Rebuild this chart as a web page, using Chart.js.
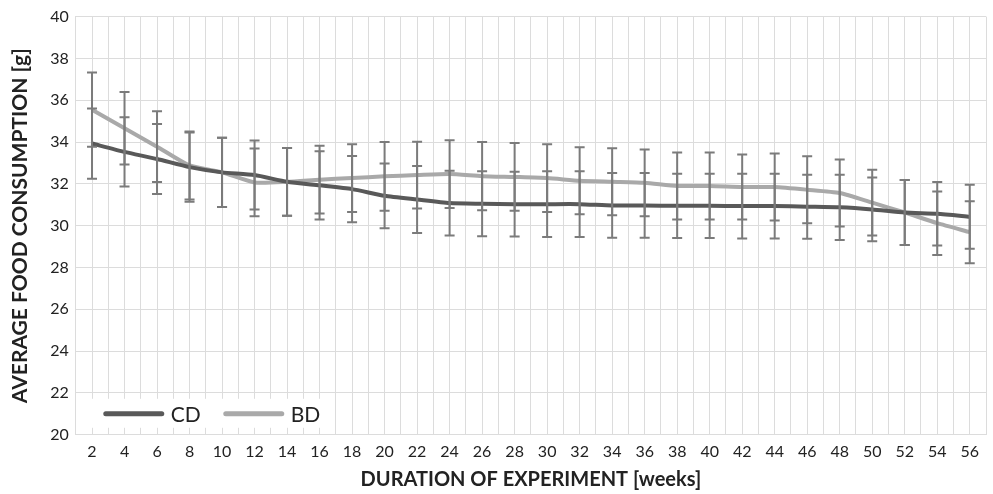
<!DOCTYPE html>
<html>
<head>
<meta charset="utf-8">
<title>Average food consumption</title>
<script src="https://cdn.jsdelivr.net/npm/chart.js@4.4.1/dist/chart.umd.min.js"></script>
<style>
  html, body { margin: 0; padding: 0; background: #fff; }
  #chart { display: block; }
</style>
</head>
<body>
<canvas id="chart" width="993" height="494"></canvas>
<script>
// weeks of the experiment
const weeks = [2, 4, 6, 8, 10, 12, 14, 16, 18, 20, 22, 24, 26, 28, 30, 32, 34, 36, 38, 40, 42, 44, 46, 48, 50, 52, 54, 56];

// mean consumption [g]
const cdMean = [33.93, 33.53, 33.19, 32.80, 32.55, 32.42, 32.10, 31.93, 31.75, 31.43, 31.25, 31.08, 31.05, 31.03, 31.03, 31.03, 30.97, 30.97, 30.95, 30.95, 30.94, 30.94, 30.91, 30.88, 30.78, 30.63, 30.57, 30.43];
const bdMean = [35.55, 34.66, 33.78, 32.88, 32.55, 32.07, 32.10, 32.20, 32.28, 32.36, 32.42, 32.47, 32.37, 32.33, 32.28, 32.15, 32.10, 32.05, 31.90, 31.90, 31.85, 31.85, 31.72, 31.56, 31.10, 30.63, 30.12, 29.69];

// error bar half-lengths [g]
const cdErr = [1.68, 1.66, 1.67, 1.66, 1.66, 1.65, 1.62, 1.63, 1.58, 1.55, 1.60, 1.55, 1.55, 1.55, 1.57, 1.57, 1.55, 1.55, 1.54, 1.54, 1.55, 1.55, 1.53, 1.56, 1.52, 1.55, 1.52, 1.53];
const bdErr = [1.78, 1.73, 1.69, 1.63, 1.66, 1.62, 1.62, 1.62, 1.62, 1.64, 1.60, 1.62, 1.63, 1.62, 1.62, 1.60, 1.60, 1.60, 1.60, 1.60, 1.55, 1.60, 1.60, 1.60, 1.57, 1.55, 1.52, 1.48];

// y axis ticks
const yTicks = [20, 22, 24, 26, 28, 30, 32, 34, 36, 38, 40];

const FONT = "Lato, 'Open Sans', sans-serif";
const TEXT = "#222222";
const GRID = "#dcdcdc";

const errorBars = {
  id: "errorBars",
  afterDatasetsDraw(chart) {
    const { ctx, scales: { x, y } } = chart;
    ctx.save();
    ctx.strokeStyle = "#7b7b7b";
    ctx.lineWidth = 2;
    chart.data.datasets.forEach(ds => {
      ds.data.forEach((p, i) => {
        const px = x.getPixelForValue(p.x);
        const hi = y.getPixelForValue(p.y + ds.errors[i]);
        const lo = y.getPixelForValue(p.y - ds.errors[i]);
        ctx.beginPath();
        ctx.moveTo(px, hi);
        ctx.lineTo(px, lo);
        ctx.moveTo(px - 5, hi);
        ctx.lineTo(px + 5, hi);
        ctx.moveTo(px - 5, lo);
        ctx.lineTo(px + 5, lo);
        ctx.stroke();
      });
    });
    ctx.restore();
  }
};

// legend drawn inside the plot, bottom left
const innerLegend = {
  id: "innerLegend",
  afterDraw(chart) {
    const { ctx, chartArea } = chart;
    const cy = chartArea.bottom - 21;
    ctx.save();
    ctx.fillStyle = "#fff";
    ctx.fillRect(chartArea.left + 1, chartArea.bottom - 36, 255, 29);
    ctx.font = "21px " + FONT;
    ctx.textBaseline = "middle";
    let cx = chartArea.left + 30;
    chart.data.datasets.forEach(ds => {
      ctx.strokeStyle = ds.borderColor;
      ctx.lineWidth = 5;
      ctx.lineCap = "round";
      ctx.beginPath();
      ctx.moveTo(cx, cy);
      ctx.lineTo(cx + 56, cy);
      ctx.stroke();
      cx += 65;
      ctx.fillStyle = TEXT;
      ctx.fillText(ds.label, cx, cy + 1);
      cx += ctx.measureText(ds.label).width + 25;
    });
    ctx.restore();
  }
};

new Chart(document.getElementById("chart"), {
  type: "line",
  data: {
    datasets: [
      {
        label: "CD",
        data: weeks.map((w, i) => ({ x: w, y: cdMean[i] })),
        errors: cdErr,
        borderColor: "#595959",
        borderWidth: 4,
        pointRadius: 0,
        tension: 0.2
      },
      {
        label: "BD",
        data: weeks.map((w, i) => ({ x: w, y: bdMean[i] })),
        errors: bdErr,
        borderColor: "#a9a9a9",
        borderWidth: 4,
        pointRadius: 0,
        tension: 0.2
      }
    ]
  },
  options: {
    responsive: false,
    animation: false,
    layout: { padding: { left: 0, right: 5, top: 6, bottom: 0 } },
    plugins: {
      legend: { display: false },
      tooltip: { enabled: false }
    },
    scales: {
      x: {
        type: "linear",
        min: 1,
        max: 57,
        afterBuildTicks: axis => {
          axis.ticks = [];
          for (let v = 1; v <= 57; v++) axis.ticks.push({ value: v });
        },
        ticks: {
          autoSkip: false,
          maxRotation: 0,
          padding: 7,
          color: TEXT,
          font: { family: FONT, size: 16 },
          callback: v => (weeks.includes(v) ? String(v) : "")
        },
        grid: { color: GRID, drawTicks: false },
        border: { color: GRID },
        title: {
          display: true,
          text: "DURATION OF EXPERIMENT [weeks]",
          color: TEXT,
          font: { family: FONT, size: 20, weight: "bold" },
          padding: { top: 0, bottom: 2 }
        }
      },
      y: {
        min: 20,
        max: 40,
        afterBuildTicks: axis => {
          axis.ticks = yTicks.map(v => ({ value: v }));
        },
        ticks: {
          padding: 7,
          color: TEXT,
          font: { family: FONT, size: 16 }
        },
        grid: { color: GRID, drawTicks: false },
        border: { color: GRID },
        title: {
          display: true,
          text: "AVERAGE FOOD CONSUMPTION [g]",
          color: TEXT,
          font: { family: FONT, size: 21, weight: "bold" },
          padding: { top: 8, bottom: 10 }
        }
      }
    }
  },
  plugins: [errorBars, innerLegend]
});
</script>
</body>
</html>
